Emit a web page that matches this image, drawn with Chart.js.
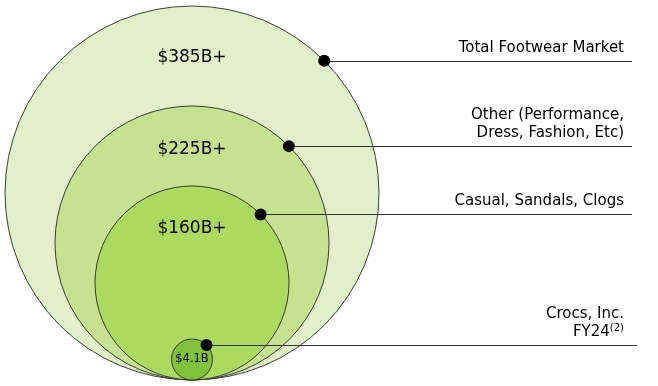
<!DOCTYPE html>
<html>
<head>
<meta charset="utf-8">
<script src="https://cdn.jsdelivr.net/npm/chart.js"></script>
<style>
  html, body { margin: 0; padding: 0; background: #fff; }
</style>
</head>
<body>
<canvas id="chart" width="658" height="386"></canvas>
<script>
// market segments, outermost first
const segments = ['Total Footwear Market', 'Other (Performance, Dress, Fashion, Etc)', 'Casual, Sandals, Clogs', 'Crocs, Inc. FY24'];
const labelLines = [['Total Footwear Market'], ['Other (Performance,', 'Dress, Fashion, Etc)'], ['Casual, Sandals, Clogs'], ['Crocs, Inc.', 'FY24']];
const marketSizeB = [385, 225, 160, 4.1];
const valueLabels = ['$385B+', '$225B+', '$160B+', '$4.1B'];
// circle radius as drawn in the picture (diagram units)
const circleRadius = [187, 137, 97, 20.5];

const fills = ['#e1f0c8', '#c4e290', '#acd960', '#80c23c'];
const FONT = '"DejaVu Sans", sans-serif';

// pixel radius from the y scale
function pxRadius(chart, r) {
  const y = chart.scales.y;
  return Math.abs(y.getPixelForValue(0) - y.getPixelForValue(r));
}

const calloutPlugin = {
  id: 'callouts',
  afterDatasetsDraw(chart) {
    const ctx = chart.ctx;
    const xs = chart.scales.x, ys = chart.scales.y;
    const lineEnd = [632, 632, 632, 637];
    const textRight = 624;
    const valueDrop = [52, 44, 43, null];
    ctx.save();
    circleRadius.forEach((r, i) => {
      const cx = xs.getPixelForValue(0);
      const cy = ys.getPixelForValue(r);
      const pr = pxRadius(chart, r);
      // dot at upper right of the circle
      const dx = cx + pr * Math.SQRT1_2;
      const dy = cy - pr * Math.SQRT1_2;
      ctx.strokeStyle = '#333';
      ctx.lineWidth = 1;
      ctx.beginPath();
      ctx.moveTo(dx, Math.round(dy) + 0.5);
      ctx.lineTo(lineEnd[i], Math.round(dy) + 0.5);
      ctx.stroke();
      ctx.fillStyle = '#000';
      ctx.beginPath();
      ctx.arc(dx, dy, 6, 0, Math.PI * 2);
      ctx.fill();

      // segment label, right aligned above the leader line
      ctx.fillStyle = '#000';
      ctx.font = '15px ' + FONT;
      ctx.textBaseline = 'middle';
      ctx.textAlign = 'right';
      const lines = labelLines[i];
      lines.forEach((t, k) => {
        const ty = dy - 13 - (lines.length - 1 - k) * 18;
        if (i === 3 && k === 1) {
          ctx.font = '10px ' + FONT;
          const sw = ctx.measureText('(2)').width;
          ctx.fillText('(2)', textRight, ty - 4);
          ctx.font = '15px ' + FONT;
          ctx.fillText(t, textRight - sw, ty);
        } else {
          ctx.fillText(t, textRight, ty);
        }
      });

      // value label inside circle
      ctx.textAlign = 'center';
      ctx.fillStyle = '#000';
      if (valueDrop[i] !== null) {
        ctx.font = '17px ' + FONT;
        ctx.fillText(valueLabels[i], cx, cy - pr + valueDrop[i]);
      } else {
        ctx.font = '11.5px ' + FONT;
        ctx.fillText(valueLabels[i], cx, cy);
      }
    });
    ctx.restore();
  }
};

new Chart(document.getElementById('chart'), {
  type: 'bubble',
  data: {
    datasets: [{
      label: 'Market size ($B)',
      data: circleRadius.map((r, i) => ({ x: 0, y: r, r: r, v: marketSizeB[i] })),
      backgroundColor: fills,
      borderColor: '#2a2a2a',
      borderWidth: 0.9,
      radius: c => pxRadius(c.chart, c.raw.r),
      clip: false
    }]
  },
  options: {
    responsive: false,
    animation: false,
    events: [],
    layout: { padding: 0, autoPadding: false },
    plugins: { legend: { display: false }, tooltip: { enabled: false } },
    scales: {
      x: { type: 'linear', min: -192, max: 466, display: false },
      y: { type: 'linear', min: -6, max: 380, display: false }
    }
  },
  plugins: [calloutPlugin]
});
</script>
</body>
</html>
